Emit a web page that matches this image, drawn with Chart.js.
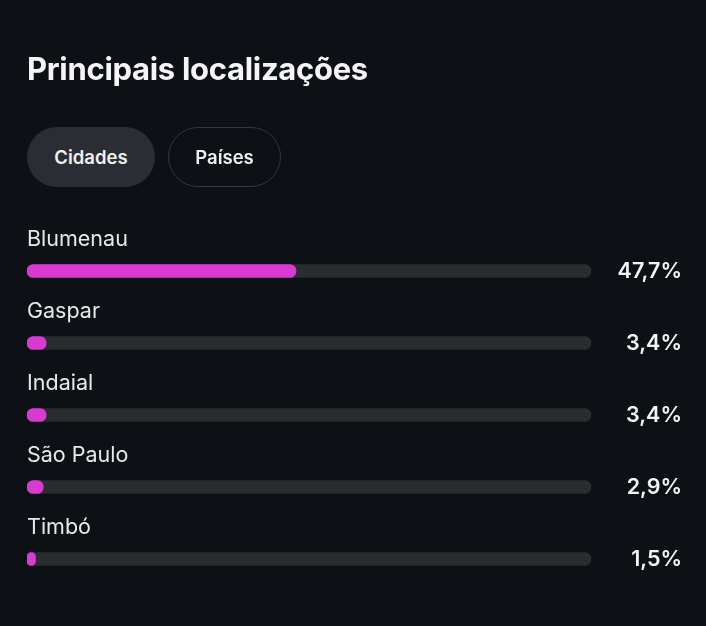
<!DOCTYPE html>
<html>
<head>
<meta charset="utf-8">
<script src="https://cdn.jsdelivr.net/npm/chart.js@4.4.1/dist/chart.umd.min.js"></script>
<style>
  html, body { margin: 0; padding: 0; background: #0d1014; }
  body { width: 706px; height: 626px; position: relative; overflow: hidden; font-family: Inter, "Noto Sans", sans-serif; }
  #chart-box { position: absolute; left: 0; top: 0; width: 706px; height: 626px; }
  h1 { position: absolute; left: 27px; top: 50px; margin: 0; color: #f5f5f5; font-size: 31px; font-weight: 700; letter-spacing: -0.3px; }
  .pill { position: absolute; top: 127px; height: 60px; box-sizing: border-box; border-radius: 30px;
          color: #f0f0f0; font-size: 18.5px; font-weight: 600; display: flex; align-items: center; justify-content: center; }
  #cidades { left: 27px; width: 128px; background: #2a2d33; }
  #paises { left: 168px; width: 113px; border: 1px solid #34373c; }
</style>
</head>
<body>
<div id="chart-box"><canvas id="locations"></canvas></div>
<h1>Principais localizações</h1>
<div class="pill" id="cidades">Cidades</div>
<div class="pill" id="paises">Países</div>
<script>
const cities = ["Blumenau", "Gaspar", "Indaial", "São Paulo", "Timbó"];
const shares = [47.7, 3.4, 3.4, 2.9, 1.5];
const trackValues = [100, 100, 100, 100, 100];

const pink = "#d93bd2";
const trackColor = "#2a2c30";

function formatPercent(value) {
  return value.toLocaleString("pt-BR", { minimumFractionDigits: 1, maximumFractionDigits: 1 }) + "%";
}

// labels above each bar and the percentage at the right
const rowTextPlugin = {
  id: "rowText",
  afterDatasetsDraw(chart) {
    const { ctx, chartArea, scales } = chart;
    ctx.save();
    ctx.textBaseline = "middle";
    cities.forEach((city, i) => {
      const y = scales.y.getPixelForTick(i);
      ctx.fillStyle = "#e8e8e8";
      ctx.font = "400 21.5px Inter, 'Noto Sans', sans-serif";
      ctx.textAlign = "left";
      ctx.fillText(city, chartArea.left, y - 31);
      ctx.fillStyle = "#f4f4f4";
      ctx.font = "600 21.5px Inter, 'Noto Sans', sans-serif";
      ctx.textAlign = "right";
      ctx.fillText(formatPercent(shares[i]), 682, y + 1);
    });
    ctx.restore();
  },
};

new Chart(document.getElementById("locations"), {
  type: "bar",
  data: {
    labels: cities,
    datasets: [
      {
        data: shares,
        backgroundColor: pink,
        borderRadius: 7,
        borderSkipped: false,
        barThickness: 13,
        grouped: false,
      },
      {
        data: trackValues,
        backgroundColor: trackColor,
        borderRadius: 7,
        borderSkipped: false,
        barThickness: 13,
        grouped: false,
      },
    ],
  },
  options: {
    indexAxis: "y",
    responsive: true,
    maintainAspectRatio: false,
    animation: false,
    layout: { padding: { left: 27, right: 115, top: 235, bottom: 31 } },
    plugins: { legend: { display: false }, tooltip: { enabled: false } },
    scales: {
      x: { display: false, min: 0, max: 100 },
      y: { display: false },
    },
  },
  plugins: [rowTextPlugin],
});
</script>
</body>
</html>
